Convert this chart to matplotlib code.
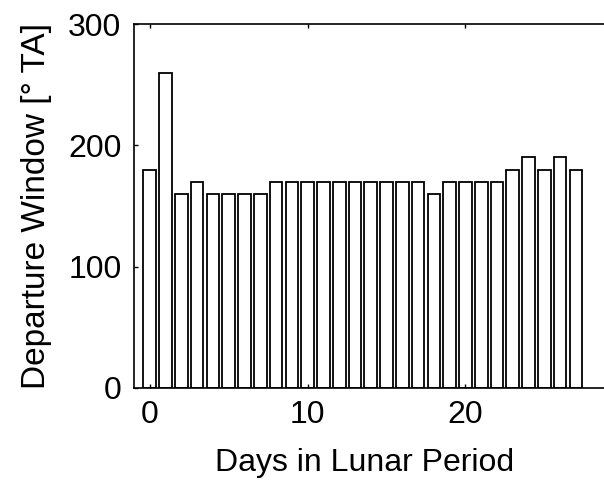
import matplotlib
matplotlib.use("Agg")
import matplotlib.pyplot as plt

days = list(range(28))
window_deg = [180, 260, 160, 170, 160, 160, 160, 160, 170, 170,
              170, 170, 170, 170, 170, 170, 170, 170, 160, 170,
              170, 170, 170, 180, 190, 180, 190, 180]
x_ticks = [0, 10, 20]
y_ticks = [0, 100, 200, 300]

plt.rcParams["font.family"] = ["Liberation Sans", "DejaVu Sans"]

fig = plt.figure(figsize=(6.04, 4.83), dpi=100)
ax = fig.add_axes([0.2219, 0.1967, 0.81, 0.7536])

ax.bar(days, window_deg, width=0.8, color="white", edgecolor="black", linewidth=1.3)

ax.set_xlim(-1, 30)
ax.set_ylim(0, 300)
ax.set_xticks(x_ticks)
ax.set_yticks(y_ticks)
ax.tick_params(direction="in", length=3, width=1, top=True, right=True,
               labelsize=23)
ax.tick_params(axis="x", pad=9)
ax.tick_params(axis="y", pad=9)
for s in ax.spines.values():
    s.set_linewidth(1.2)

ax.set_xlabel("Days in Lunar Period", fontsize=23)
ax.set_ylabel("Departure Window [° TA]", fontsize=24)
ax.xaxis.set_label_coords(0.472, -0.165)
ax.yaxis.set_label_coords(-0.168, 0.5)

fig.savefig("out.png", dpi=100)
